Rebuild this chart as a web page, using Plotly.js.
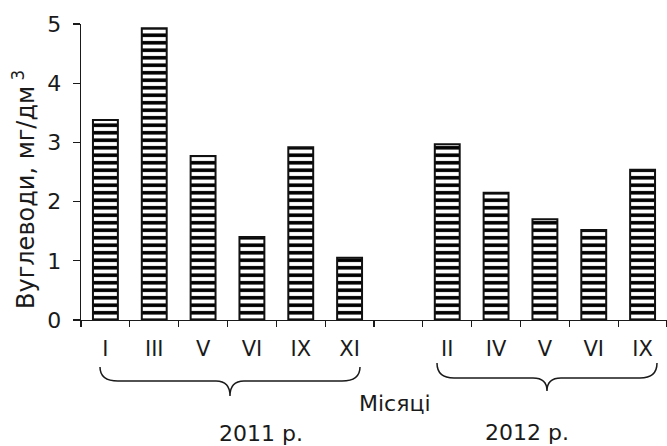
<!DOCTYPE html>
<html>
<head>
<meta charset="utf-8">
<script src="https://cdn.plot.ly/plotly-3.0.1.min.js"></script>
<style>html,body{margin:0;padding:0;background:#fff;}#chart{width:667px;height:446px;}</style>
</head>
<body>
<div id="chart"></div>
<script>
// ---- data ----
const months2011 = ['I', 'III', 'V', 'VI', 'IX', 'XI'];
const values2011 = [3.38, 4.93, 2.77, 1.40, 2.92, 1.05];
const months2012 = ['II', 'IV', 'V', 'VI', 'IX'];
const values2012 = [2.97, 2.15, 1.70, 1.52, 2.54];
const yearLabels = ['2011 р.', '2012 р.'];
const yTitle = 'Вуглеводи, мг/дм<sup> 3</sup>';
const xTitle = 'Місяці';
const yTicks = [0, 1, 2, 3, 4, 5];

// categories (unique ids) with a blank gap between years
const cats = [], labels = [], vals = [];
months2011.forEach((m, i) => { cats.push('2011-' + m); labels.push(m); vals.push(values2011[i]); });
cats.push('gap'); labels.push(' '); vals.push(null);
months2012.forEach((m, i) => { cats.push('2012-' + m); labels.push(m); vals.push(values2012[i]); });

// ---- layout geometry (pixels) ----
const W = 667, H = 446, L = 81, R = 0, T = 24, B = 126;
const pw = W - L - R, ph = H - T - B;
const px = X => (X - L) / pw;
const py = Y => (H - B - Y) / ph;
function path(cmds) {
  return cmds.map(c => c[0] + ' ' + c.slice(1).reduce((a, v, i) => {
    if (i % 2 === 0) a.push(px(v).toFixed(5)); else a[a.length - 1] += ',' + py(v).toFixed(5);
    return a;
  }, []).join(' ')).join(' ');
}
function brace(x0, x1, xc, yTop, yMid, yTip, r) {
  return path([
    ['M', x0, yTop], ['Q', x0, yMid, x0 + r, yMid], ['L', xc - 14, yMid],
    ['Q', xc, yMid, xc, yTip], ['Q', xc, yMid, xc + 14, yMid],
    ['L', x1 - r, yMid], ['Q', x1, yMid, x1, yTop]
  ]);
}

const font = 'DejaVu Sans, Verdana, sans-serif';
const ink = '#1a1a1a';

const trace = {
  type: 'bar', x: cats, y: vals,
  marker: {
    color: '#ffffff',
    line: { color: '#111111', width: 2 },
    pattern: { shape: '-', fgcolor: '#000000', bgcolor: '#ffffff', size: 7.5, solidity: 0.48 }
  },
  hoverinfo: 'skip'
};

const layout = {
  width: W, height: H,
  margin: { l: L, r: R, t: T, b: B, pad: 0 },
  paper_bgcolor: '#ffffff', plot_bgcolor: '#ffffff',
  showlegend: false, bargap: 0.49,
  font: { family: font, color: ink, size: 21 },
  xaxis: {
    type: 'category', range: [-0.5, cats.length - 0.5],
    tickmode: 'array', tickvals: cats, ticktext: labels,
    tickson: 'boundaries', ticks: 'outside', ticklen: 6, tickwidth: 1.3, tickcolor: ink,
    showline: true, linecolor: ink, linewidth: 1.3, showgrid: false, zeroline: false,
    tickfont: { family: font, size: 21, color: ink }, ticklabelstandoff: 9,
    fixedrange: true
  },
  yaxis: {
    range: [0, 5], tickmode: 'array', tickvals: yTicks,
    ticks: 'outside', ticklen: 7, tickwidth: 1.3, tickcolor: ink,
    showline: true, linecolor: ink, linewidth: 1.3, showgrid: false, zeroline: false,
    tickfont: { family: font, size: 22, color: ink }, ticklabelstandoff: 7,
    fixedrange: true
  },
  annotations: [
    { text: yTitle, xref: 'paper', yref: 'paper', x: px(24), y: py(190), textangle: -90,
      showarrow: false, xanchor: 'center', yanchor: 'middle', font: { family: font, size: 24, color: ink } },
    { text: xTitle, xref: 'paper', yref: 'paper', x: px(395), y: py(403),
      showarrow: false, xanchor: 'center', yanchor: 'middle', font: { family: font, size: 22, color: ink } },
    { text: yearLabels[0], xref: 'paper', yref: 'paper', x: px(261), y: py(433),
      showarrow: false, xanchor: 'center', yanchor: 'middle', font: { family: font, size: 22, color: ink } },
    { text: yearLabels[1], xref: 'paper', yref: 'paper', x: px(527), y: py(432),
      showarrow: false, xanchor: 'center', yanchor: 'middle', font: { family: font, size: 22, color: ink } }
  ],
  shapes: [
    { type: 'path', xref: 'paper', yref: 'paper', path: brace(100, 360, 230, 367, 381, 396, 18),
      line: { color: ink, width: 1.5 } },
    { type: 'path', xref: 'paper', yref: 'paper', path: brace(437, 657, 547, 363, 378, 391, 17),
      line: { color: ink, width: 1.5 } }
  ]
};

Plotly.newPlot('chart', [trace], layout, { staticPlot: true, displayModeBar: false });
</script>
</body>
</html>
